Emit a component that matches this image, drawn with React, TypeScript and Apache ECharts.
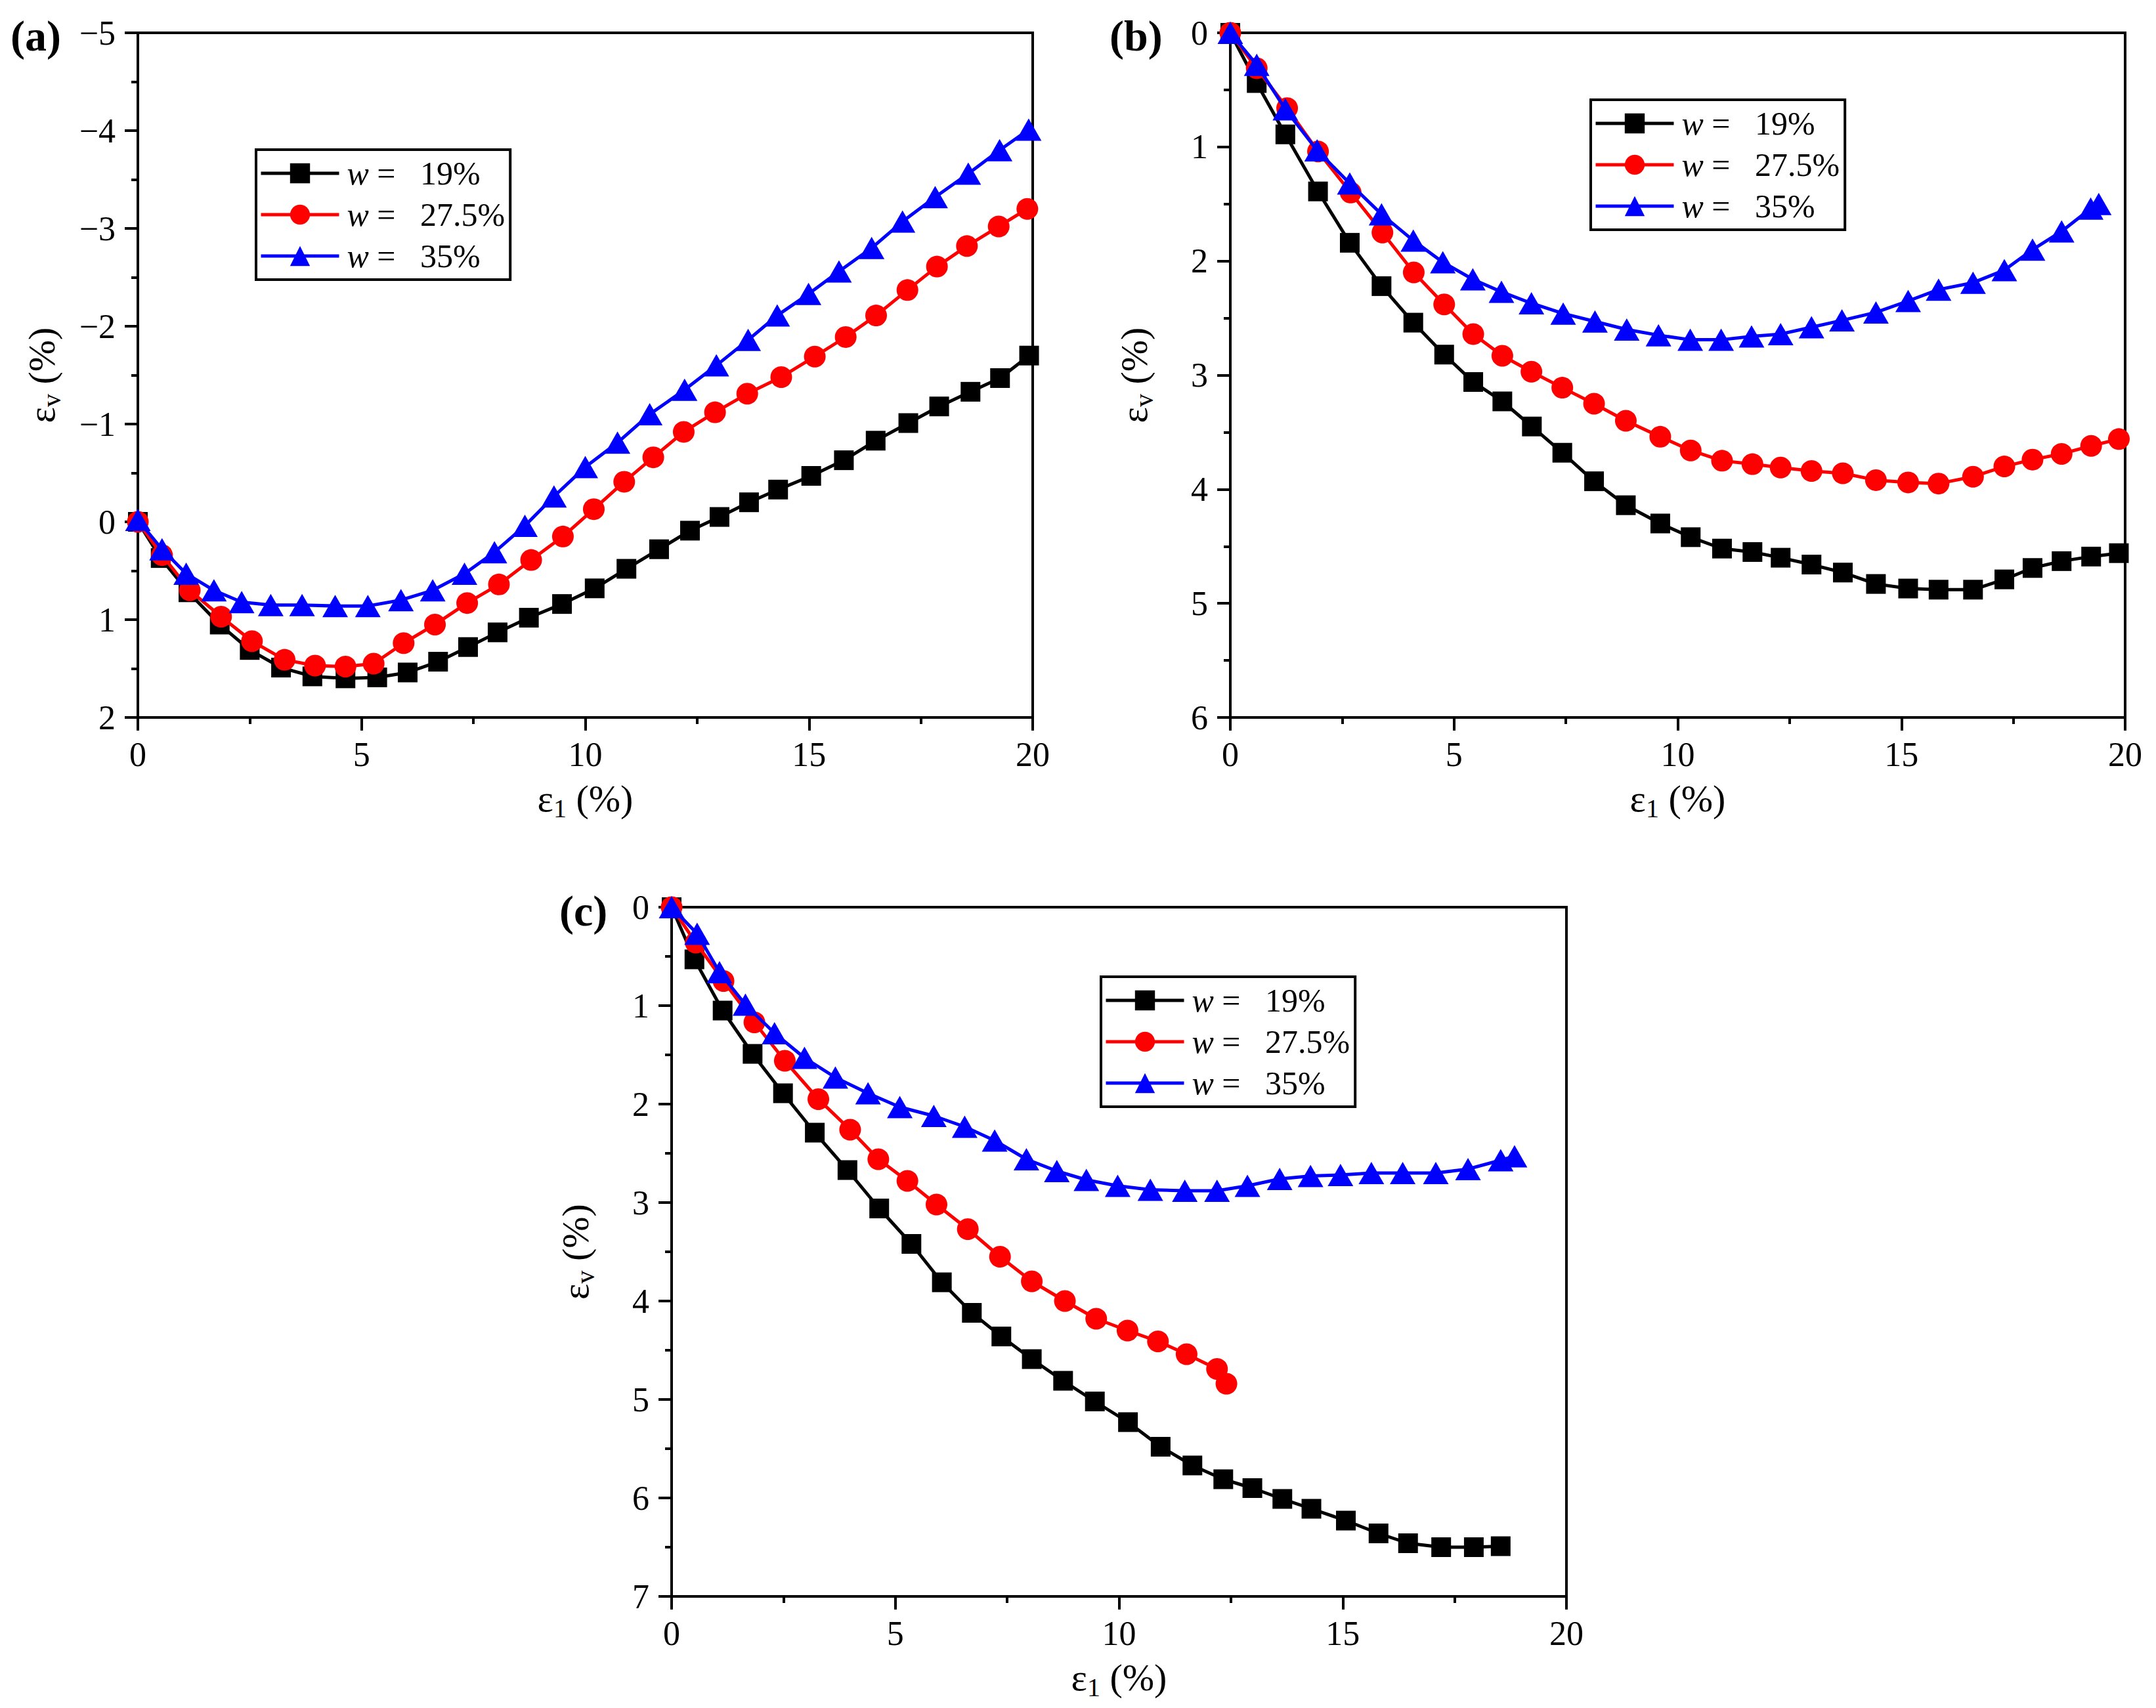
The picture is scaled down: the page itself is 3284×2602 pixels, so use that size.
import * as echarts from 'echarts'
import { useEffect, useRef } from 'react'

const FONT = 'Liberation Serif'

const seriesNames = ['19%', '27.5%', '35%']

// panel (a)
const aX19 = [0, 0.51, 1.13, 1.83, 2.5, 3.2, 3.9, 4.64, 5.35, 6.03, 6.71, 7.38, 8.04, 8.74, 9.48, 10.21, 10.92, 11.65, 12.34, 13.0, 13.66, 14.31, 15.05, 15.78, 16.49, 17.22, 17.91, 18.61, 19.27, 19.92]
const aY19 = [0, 0.37, 0.72, 1.05, 1.31, 1.49, 1.58, 1.6, 1.59, 1.54, 1.43, 1.28, 1.13, 0.98, 0.84, 0.68, 0.48, 0.28, 0.09, -0.05, -0.2, -0.33, -0.47, -0.63, -0.83, -1.01, -1.18, -1.33, -1.47, -1.7]
const aX275 = [0, 0.54, 1.16, 1.86, 2.55, 3.28, 3.96, 4.64, 5.27, 5.94, 6.64, 7.36, 8.07, 8.79, 9.5, 10.19, 10.87, 11.52, 12.2, 12.9, 13.62, 14.38, 15.13, 15.82, 16.5, 17.2, 17.86, 18.53, 19.24, 19.88]
const aY275 = [0, 0.34, 0.7, 0.97, 1.22, 1.41, 1.47, 1.48, 1.45, 1.24, 1.05, 0.83, 0.64, 0.39, 0.15, -0.13, -0.41, -0.66, -0.92, -1.12, -1.31, -1.48, -1.69, -1.89, -2.11, -2.37, -2.61, -2.82, -3.02, -3.2]
const aX35 = [0, 0.54, 1.08, 1.7, 2.32, 2.97, 3.67, 4.41, 5.14, 5.88, 6.59, 7.3, 7.97, 8.65, 9.3, 10.0, 10.72, 11.44, 12.22, 12.93, 13.64, 14.29, 14.99, 15.67, 16.4, 17.09, 17.82, 18.56, 19.26, 19.91]
const aY35 = [-0.02, 0.28, 0.53, 0.7, 0.82, 0.85, 0.85, 0.86, 0.86, 0.8, 0.7, 0.53, 0.31, 0.04, -0.26, -0.56, -0.81, -1.1, -1.35, -1.6, -1.86, -2.11, -2.33, -2.56, -2.8, -3.07, -3.32, -3.56, -3.8, -4.01]

// panel (b)
const bX19 = [0, 0.59, 1.23, 1.96, 2.67, 3.38, 4.09, 4.78, 5.43, 6.08, 6.74, 7.42, 8.13, 8.84, 9.61, 10.29, 10.99, 11.67, 12.3, 12.99, 13.69, 14.43, 15.15, 15.83, 16.6, 17.3, 17.93, 18.58, 19.24, 19.86]
const bY19 = [0, 0.44, 0.89, 1.39, 1.84, 2.22, 2.54, 2.82, 3.06, 3.23, 3.45, 3.68, 3.93, 4.14, 4.3, 4.42, 4.52, 4.55, 4.6, 4.66, 4.73, 4.83, 4.87, 4.88, 4.88, 4.79, 4.69, 4.63, 4.59, 4.56]
const bX275 = [0, 0.59, 1.27, 1.96, 2.69, 3.4, 4.1, 4.78, 5.43, 6.08, 6.73, 7.42, 8.13, 8.84, 9.61, 10.29, 10.99, 11.67, 12.3, 12.99, 13.69, 14.43, 15.15, 15.83, 16.6, 17.3, 17.93, 18.58, 19.24, 19.86]
const bY275 = [0, 0.31, 0.66, 1.04, 1.4, 1.75, 2.1, 2.38, 2.64, 2.83, 2.97, 3.11, 3.25, 3.4, 3.54, 3.66, 3.75, 3.78, 3.81, 3.84, 3.86, 3.92, 3.94, 3.95, 3.89, 3.8, 3.74, 3.69, 3.62, 3.56]
const bX35 = [0, 0.59, 1.23, 1.94, 2.67, 3.38, 4.09, 4.75, 5.42, 6.06, 6.73, 7.44, 8.15, 8.86, 9.57, 10.28, 10.97, 11.65, 12.3, 12.99, 13.67, 14.43, 15.15, 15.83, 16.6, 17.3, 17.93, 18.58, 19.23, 19.41]
const bY35 = [0, 0.28, 0.67, 1.03, 1.32, 1.59, 1.82, 2.01, 2.16, 2.27, 2.37, 2.46, 2.53, 2.6, 2.65, 2.69, 2.69, 2.66, 2.64, 2.58, 2.52, 2.45, 2.35, 2.25, 2.19, 2.08, 1.9, 1.74, 1.54, 1.5]

// panel (c)
const cX19 = [0, 0.51, 1.14, 1.81, 2.49, 3.2, 3.93, 4.64, 5.36, 6.04, 6.71, 7.37, 8.05, 8.75, 9.46, 10.2, 10.93, 11.64, 12.33, 12.98, 13.65, 14.3, 15.07, 15.8, 16.46, 17.2, 17.93, 18.53]
const cY19 = [0, 0.53, 1.05, 1.49, 1.89, 2.29, 2.67, 3.06, 3.42, 3.81, 4.12, 4.36, 4.59, 4.81, 5.02, 5.23, 5.48, 5.67, 5.81, 5.9, 6.01, 6.11, 6.23, 6.36, 6.46, 6.5, 6.5, 6.49]
const cX275 = [0, 0.54, 1.16, 1.85, 2.53, 3.28, 3.99, 4.62, 5.27, 5.92, 6.62, 7.34, 8.05, 8.79, 9.49, 10.19, 10.87, 11.51, 12.19, 12.4]
const cY275 = [0, 0.36, 0.75, 1.17, 1.56, 1.95, 2.26, 2.56, 2.78, 3.02, 3.27, 3.55, 3.8, 4.0, 4.18, 4.3, 4.41, 4.54, 4.69, 4.84]
const cX35 = [0, 0.57, 1.07, 1.65, 2.3, 2.97, 3.66, 4.39, 5.1, 5.86, 6.55, 7.22, 7.93, 8.61, 9.27, 9.97, 10.7, 11.47, 12.19, 12.87, 13.59, 14.28, 14.95, 15.64, 16.34, 17.08, 17.8, 18.53, 18.84]
const cY35 = [0, 0.27, 0.66, 0.99, 1.28, 1.53, 1.73, 1.89, 2.03, 2.12, 2.23, 2.37, 2.56, 2.68, 2.77, 2.83, 2.87, 2.88, 2.88, 2.83, 2.76, 2.73, 2.72, 2.7, 2.7, 2.7, 2.66, 2.57, 2.53]

const pairs = (xs: number[], ys: number[]) => xs.map((x, i) => [x, ys[i]])

const marks = [
  { color: '#000000', symbol: 'rect', symbolSize: 30 },
  { color: '#ff0000', symbol: 'circle', symbolSize: 33 },
  { color: '#0000ff', symbol: 'triangle', symbolSize: [39, 34] },
]

const panels = [
  { label: '(a)', yMin: -5, yMax: 2, grid: { left: 210, top: 50, width: 1363, height: 1043 }, legend: { left: 390, top: 228 }, labelPos: [16, 54], data: [pairs(aX19, aY19), pairs(aX275, aY275), pairs(aX35, aY35)] },
  { label: '(b)', yMin: 0, yMax: 6, grid: { left: 1874, top: 50, width: 1363, height: 1043 }, legend: { left: 2423, top: 152 }, labelPos: [1690, 54], data: [pairs(bX19, bY19), pairs(bX275, bY275), pairs(bX35, bY35)] },
  { label: '(c)', yMin: 0, yMax: 7, grid: { left: 1023, top: 1382, width: 1363, height: 1050 }, legend: { left: 1677, top: 1488 }, labelPos: [852, 1387], data: [pairs(cX19, cY19), pairs(cX275, cY275), pairs(cX35, cY35)] },
]

const nameRich = {
  e: { fontFamily: FONT, fontSize: 58, color: '#000', verticalAlign: 'top' as const, lineHeight: 58 },
  s: { fontFamily: FONT, fontSize: 40, color: '#000', verticalAlign: 'top' as const, lineHeight: 40, padding: [24, 0, 0, 0] },
  p: { fontFamily: FONT, fontSize: 58, color: '#000', verticalAlign: 'top' as const, lineHeight: 58 },
}

const axisCommon = {
  type: 'value' as const,
  nameLocation: 'middle' as const,
  splitLine: { show: false },
  axisLine: { show: true, onZero: false, lineStyle: { color: '#000', width: 4 } },
  axisTick: { show: true, inside: false, length: 20, lineStyle: { color: '#000', width: 4 } },
  minorTick: { show: true, splitNumber: 2, length: 10, lineStyle: { color: '#000', width: 4 } },
}

const buildOption = (): echarts.EChartsOption => ({
  animation: false,
  backgroundColor: '#ffffff',
  grid: panels.map((p) => ({ ...p.grid, show: true, borderColor: '#000', borderWidth: 4, backgroundColor: 'transparent' })),
  xAxis: panels.map((_, i) => ({
    ...axisCommon,
    gridIndex: i,
    min: 0,
    max: 20,
    interval: 5,
    name: '{e|ε}{s|1}{p| (%)}',
    nameGap: 94,
    nameTextStyle: { rich: nameRich },
    axisLabel: { fontFamily: FONT, fontSize: 52, color: '#000', margin: 30, showMinLabel: true, showMaxLabel: true },
  })),
  yAxis: panels.map((p, i) => ({
    ...axisCommon,
    gridIndex: i,
    min: p.yMin,
    max: p.yMax,
    interval: 1,
    inverse: true,
    name: '{e|ε}{s|v}{p| (%)}',
    nameGap: 118,
    nameRotate: 90,
    nameTextStyle: { rich: nameRich },
    axisLabel: {
      fontFamily: FONT,
      fontSize: 52,
      color: '#000',
      margin: 34,
      showMinLabel: true,
      showMaxLabel: true,
      formatter: (v: number) => String(v).replace('-', '\u2212'),
    },
  })),
  legend: panels.map((p) => ({
    data: seriesNames,
    orient: 'vertical' as const,
    left: p.legend.left,
    top: p.legend.top,
    selectedMode: false,
    borderColor: '#000',
    borderWidth: 4,
    padding: [11, 8, 11, 5],
    itemWidth: 119,
    itemHeight: 38,
    itemGap: 13,
    lineStyle: { width: 5 },
    formatter: (name: string) => `{i|w}{n| =   ${name}}`,
    textStyle: {
      fontFamily: FONT,
      fontSize: 50,
      color: '#000',
      rich: {
        i: { fontFamily: FONT, fontSize: 50, fontStyle: 'italic', color: '#000', padding: [0, 0, 0, 7] },
        n: { fontFamily: FONT, fontSize: 50, color: '#000' },
      },
    },
  })),
  graphic: panels.map((p) => ({
    type: 'text',
    x: p.labelPos[0],
    y: p.labelPos[1],
    style: { text: p.label, font: `bold 66px "${FONT}"`, fill: '#000', verticalAlign: 'middle' },
  })),
  series: panels.flatMap((p, pi) =>
    p.data.map((d, si) => ({
      type: 'line' as const,
      name: seriesNames[si],
      xAxisIndex: pi,
      yAxisIndex: pi,
      data: d,
      symbol: marks[si].symbol,
      symbolSize: marks[si].symbolSize,
      showAllSymbol: true,
      lineStyle: { color: marks[si].color, width: 5 },
      itemStyle: { color: marks[si].color },
      z: 2 + si,
    })),
  ),
})

const App = () => {
  const containerRef = useRef<HTMLDivElement>(null)

  useEffect(() => {
    if (!containerRef.current) return
    const chart = echarts.init(containerRef.current, undefined, { renderer: 'svg' })
    chart.setOption(buildOption())
    return () => {
      chart.dispose()
    }
  }, [])

  return (
    <div
      ref={containerRef}
      style={{ position: 'absolute', left: 0, top: 0, width: 3284, height: 2602, background: '#fff' }}
    />
  )
}

export default App
